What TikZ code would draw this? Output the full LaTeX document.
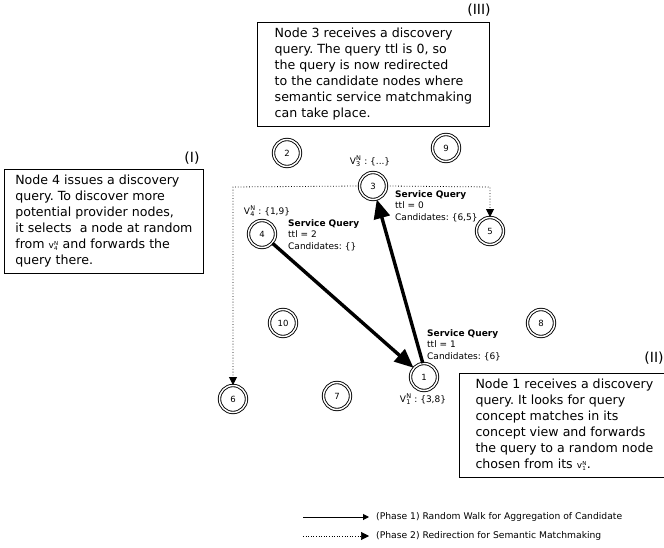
\documentclass[tikz,border=0pt]{standalone}
\usepackage{fontspec}
\setmainfont{DejaVu Sans}
\usetikzlibrary{arrows.meta}
\frenchspacing
% neighbour-view symbol: letter with stacked superscript N and a subscript index
\newcommand\nview[4]{{\fontsize{#3}{#3}\selectfont #1}\kern0.2pt\rlap{\raisebox{-0.22\dimexpr#3pt\relax}{\fontsize{#4}{#4}\selectfont #2}}{\raisebox{0.42\dimexpr#3pt\relax}{\fontsize{#4}{#4}\selectfont N}}\kern0.4pt\relax}
\begin{document}
\begin{tikzpicture}[x=1pt,y=-1pt,
  peer/.style={circle,draw,double,double distance=1.5pt,line width=0.9pt,minimum size=27pt,inner sep=0pt,font=\fontsize{8.5}{10}\selectfont},
  infobox/.style={draw,line width=0.8pt,anchor=north west,align=left,font=\fontsize{12.6}{16}\selectfont,inner xsep=0pt,inner ysep=6pt},
  tag/.style={font=\fontsize{14}{16}\selectfont},
  qlabel/.style={anchor=north west,align=left,inner sep=0pt,font=\fontsize{9}{11.5}\selectfont},
  vlabel/.style={inner sep=0pt,font=\fontsize{9}{10}\selectfont},
  legendtext/.style={anchor=west,inner sep=0pt,font=\fontsize{9.2}{11}\selectfont},
  walk/.style={line width=3.4pt,-{Triangle[length=19pt,width=16pt]}},
  redirect/.style={dotted,line width=0.8pt,-{Triangle[length=8pt,width=8pt]}}
]
\useasboundingbox (0,0) rectangle (664,548);

% peers
\node[peer] (n1) at (424,377) {1};
\node[peer] (n2) at (287,153) {2};
\node[peer] (n3) at (373,186) {3};
\node[peer] (n4) at (262,234) {4};
\node[peer] (n5) at (490,231) {5};
\node[peer] (n6) at (233,399) {6};
\node[peer] (n7) at (337,396) {7};
\node[peer] (n8) at (541,323) {8};
\node[peer] (n9) at (446,148) {9};
\node[peer] (n10) at (283,323) {10};

% neighbour views
\node[vlabel] (v3) at (370,161) {\nview{V}{3}{9}{6.5} : \{...\}};
\node[vlabel] (v4) at (267,211) {\nview{V}{4}{9}{6.5} : \{1,9\}};
\node[vlabel] (v1) at (423,399) {\nview{V}{1}{9}{6.5} : \{3,8\}};

% query states
\node[qlabel] (q4) at (288,219) {\textbf{Service Query}\\ttl = 2\\Candidates: \{\}};
\node[qlabel] (q3) at (395,190) {\textbf{Service Query}\\ttl = 0\\Candidates: \{6,5\}};
\node[qlabel] (q1) at (427,329) {\textbf{Service Query}\\ttl = 1\\Candidates: \{6\}};

% phase 1: random walk
\draw[walk] (n4) -- (n1);
\draw[walk] (n1.95) -- (n3);

% phase 2: redirection to candidates
\coordinate (c6) at (233,187);
\coordinate (c5) at (490,187);
\draw[redirect] (n3.west) -- (c6) -- (n6.north);
\draw[redirect] (n3.east) -- (c5) -- (n5.north);

% explanation boxes
\node[infobox,minimum width=232pt] (b3) at (257,22) {Node 3 receives a discovery\\query. The query ttl is 0, so\\the query is now redirected\\to the candidate nodes where\\semantic service matchmaking\\can take place.};
\node[tag] (t3) at (479,10) {(III)};

\node[infobox,minimum width=199pt] (b4) at (4,169) {Node 4 issues a discovery\\query. To discover more\\potential provider nodes,\\it selects\ \ a node at random\\from \nview{v}{4}{9}{5.5} and forwards the\\query there.};
\node[tag] (t4) at (192,158) {(I)};

\node[infobox,minimum width=210pt] (b1) at (459,373) {Node 1 receives a discovery\\query. It looks for query\\concept matches in its\\concept view and forwards\\the query to a random node\\chosen from its \nview{v}{1}{9}{5.5}.};
\node[tag] (t1) at (654,358) {(II)};

% legend
\coordinate (l1a) at (303,517);
\coordinate (l1b) at (369,517);
\coordinate (l2a) at (303,536);
\coordinate (l2b) at (369,536);
\draw[line width=1pt,-{Triangle[length=6pt,width=6pt]}] (l1a) -- (l1b);
\draw[dotted,line width=0.6pt,-{Triangle[length=8pt,width=8pt]}] (l2a) -- (l2b);
\node[legendtext] (lt1) at (376,517) {(Phase 1) Random Walk for Aggregation of Candidate};
\node[legendtext] (lt2) at (376,536) {(Phase 2) Redirection for Semantic Matchmaking};
\end{tikzpicture}
\end{document}
